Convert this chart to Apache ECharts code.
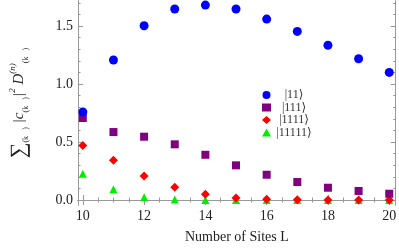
<!DOCTYPE html>
<html><head><meta charset="utf-8">
<script src="https://cdn.jsdelivr.net/npm/echarts@6/dist/echarts.min.js"></script>
<style>html,body{margin:0;padding:0;background:#fff}#c{width:399px;height:249px}</style>
</head><body><div id="c"></div>
<script>
const sites = [10, 11, 12, 13, 14, 15, 16, 17, 18, 19, 20];
const k11 = [0.759, 1.207, 1.503, 1.647, 1.681, 1.647, 1.560, 1.454, 1.334, 1.218, 1.100];
const k111 = [0.707, 0.586, 0.546, 0.480, 0.390, 0.299, 0.218, 0.155, 0.106, 0.078, 0.054];
const k1111 = [0.470, 0.342, 0.207, 0.109, 0.049, 0.017, 0.007, 0.003, 0.001, 0.001, 0.000];
const k11111 = [0.227, 0.092, 0.023, 0.005, 0.001, 0.000, 0.000, 0.000, 0.000, 0.000, 0.000];
const seriesNames = ['|11⟩', '|111⟩', '|1111⟩', '|11111⟩'];
const xTickLabels = [10, 12, 14, 16, 18, 20];
const yTickLabels = [0, 0.5, 1.0, 1.5];
const xMinor = [10,10.5,11,11.5,12,12.5,13,13.5,14,14.5,15,15.5,16,16.5,17,17.5,18,18.5,19,19.5,20];
const yMinor = [0,0.1,0.2,0.3,0.4,0.5,0.6,0.7,0.8,0.9,1.0,1.1,1.2,1.3,1.4,1.5,1.6,1.7];

const frame = '#999';
const font = '"Liberation Serif", "DejaVu Serif", serif';
const xMin = 9.843, xMax = 20.21, yMin = -0.043, yMax = 1.716;

function xAx(pos, major, labels) {
  return {
    type: 'value', position: pos, min: xMin, max: xMax,
    axisLine: {show: true, lineStyle: {color: frame, width: 1}},
    axisTick: {show: true, inside: true, length: major ? 5 : 2.5, lineStyle: {color: frame},
               customValues: major ? xTickLabels : xMinor},
    axisLabel: {show: labels, customValues: xTickLabels, color: '#222', fontFamily: font, fontSize: 14, margin: 4},
    splitLine: {show: false}
  };
}
function yAx(pos, major, labels) {
  return {
    type: 'value', position: pos, min: yMin, max: yMax,
    axisLine: {show: true, lineStyle: {color: frame, width: 1}},
    axisTick: {show: true, inside: true, length: major ? 5 : 2.5, lineStyle: {color: frame},
               customValues: major ? yTickLabels : yMinor},
    axisLabel: {show: labels, customValues: yTickLabels, color: '#222', fontFamily: font, fontSize: 14, margin: 5,
                formatter: v => v.toFixed(1)},
    splitLine: {show: false}
  };
}

const xAxes = [xAx('bottom', true, true), xAx('bottom', false, false), xAx('top', true, false), xAx('top', false, false)];
xAxes[0].name = 'Number of Sites L';
xAxes[0].nameLocation = 'middle';
xAxes[0].nameGap = 25;
xAxes[0].nameTextStyle = {fontFamily: font, fontSize: 14, color: '#222'};

const yAxes = [yAx('left', true, true), yAx('left', false, false), yAx('right', true, false), yAx('right', false, false)];
yAxes[0].name = '{sum|∑}{sub|(k⃗)}{t| |c}{sub|(k⃗)}{t||}{sup|2}{t| D}{sup|(n)}{sub|(k⃗)}';
yAxes[0].nameLocation = 'middle';
yAxes[0].nameGap = 48;
yAxes[0].nameRotate = 90;
yAxes[0].nameTextStyle = {
  fontFamily: font, fontSize: 14, color: '#222',
  rich: {
    sum: {fontFamily: font, fontSize: 22, color: '#222'},
    t: {fontFamily: font, fontSize: 15, fontStyle: 'italic', color: '#222'},
    sub: {fontFamily: font, fontSize: 8, color: '#222', verticalAlign: 'bottom', lineHeight: 8},
    sup: {fontFamily: font, fontSize: 9, fontStyle: 'italic', color: '#222', verticalAlign: 'top', lineHeight: 9}
  }
};

const colors = ['#0000ff', '#800080', '#ff0000', '#00ee00'];
const symbols = ['circle', 'rect', 'diamond', 'triangle'];
const sizes = [9, 8, 9, 8];
const data = [k11, k111, k1111, k11111];

const series = data.map((arr, i) => ({
  name: seriesNames[i], type: 'scatter', xAxisIndex: 0, yAxisIndex: 0,
  symbol: symbols[i], symbolSize: sizes[i],
  itemStyle: {color: colors[i], opacity: 1},
  data: sites.map((s, j) => [s, arr[j]]),
  z: 10 - i
}));

const chart = echarts.init(document.getElementById('c'), null, {renderer: 'canvas'});
chart.setOption({
  animation: false,
  grid: {left: 66, right: 2.3, top: 1, bottom: 44, containLabel: false},
  xAxis: xAxes,
  yAxis: yAxes,
  legend: {
    orient: 'vertical', left: 262, top: 89, itemWidth: 9, itemHeight: 8, itemGap: 0.5, padding: 0,
    data: seriesNames.map((n, i) => ({name: n, icon: symbols[i]})),
    formatter: n => '{c|' + n + '}',
    textStyle: {fontFamily: font, fontSize: 12, color: '#333', lineHeight: 10,
                rich: {c: {fontFamily: font, fontSize: 12, color: '#333', width: 36, align: 'center', lineHeight: 10}}},
    itemStyle: {opacity: 1}
  },
  series: series
});
</script></body></html>
